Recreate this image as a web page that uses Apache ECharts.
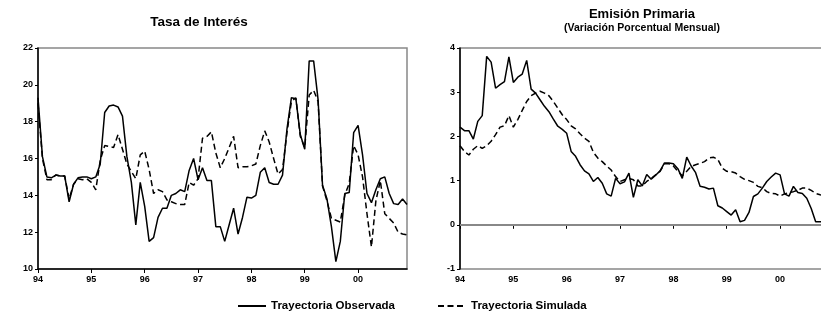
<!DOCTYPE html>
<html>
<head>
<meta charset="utf-8">
<script src="https://cdn.jsdelivr.net/npm/echarts@6/dist/echarts.min.js"></script>
<style>
  html, body { margin: 0; padding: 0; background: #fff; overflow: hidden; }
  #main { width: 834px; height: 316px; }
</style>
</head>
<body>
<div id="main"></div>
<script>
// datos mensuales 1994-2000
var years = ['94', '95', '96', '97', '98', '99', '00'];
var months = ['01', '02', '03', '04', '05', '06', '07', '08', '09', '10', '11', '12'];

// Tasa de Interés
var tasaObservada = [
    19.3, 16.1, 15.0, 14.95, 15.1, 15.05, 15.05, 13.65, 14.6, 14.95,
    15.0, 15.0, 14.9, 15.0, 15.7, 18.5, 18.85, 18.9, 18.8, 18.3,
    16.1, 14.7, 12.4, 14.7, 13.4, 11.5, 11.7, 12.8, 13.3, 13.3,
    14.0, 14.1, 14.3, 14.2, 15.35, 16.0, 14.85, 15.5, 14.8, 14.8,
    12.3, 12.3, 11.5, 12.4, 13.3, 11.9, 12.8, 13.9, 13.85, 14.0,
    15.25, 15.5, 14.7, 14.6, 14.6, 15.1, 17.6, 19.3, 19.25, 17.3,
    16.5, 21.3, 21.3, 19.2, 14.55, 13.8, 12.3, 10.4, 11.5, 14.1,
    14.15, 17.4, 17.8, 16.2, 14.1, 13.6, 14.3, 14.9, 15.0, 14.1,
    13.55, 13.5, 13.8, 13.5
];
var tasaSimulada = [
    19.0, 16.0, 14.85, 14.85, 15.1, 15.05, 15.05, 13.8, 14.6, 14.9,
    14.85, 14.9, 14.7, 14.3, 15.9, 16.7, 16.65, 16.6, 17.3, 16.5,
    15.7, 15.3, 14.9, 16.2, 16.4, 15.4, 14.1, 14.3, 14.2, 13.75,
    13.65, 13.55, 13.5, 13.5, 14.7, 14.55, 14.9, 17.1, 17.2, 17.45,
    16.3, 15.5, 16.0, 16.6, 17.2, 15.5, 15.55, 15.55, 15.6, 15.7,
    16.7, 17.5, 16.9, 16.0, 15.15, 15.4, 17.4, 19.1, 19.3, 17.2,
    16.6, 19.45, 19.7, 19.1, 14.5, 13.7, 12.75, 12.65, 12.55, 14.0,
    14.65, 16.7, 16.2, 15.0, 13.0, 11.2, 13.7, 14.8, 13.0, 12.75,
    12.5, 12.0, 11.9, 11.85
];

// Emisión Primaria (variación porcentual mensual)
var emisionObservada = [
    2.21, 2.13, 2.13, 1.94, 2.34, 2.47, 3.81, 3.68, 3.09, 3.17,
    3.24, 3.80, 3.22, 3.34, 3.41, 3.72, 3.07, 2.98, 2.83, 2.68,
    2.56, 2.39, 2.23, 2.16, 2.07, 1.66, 1.55, 1.36, 1.22, 1.15,
    0.98, 1.07, 0.94, 0.70, 0.65, 1.05, 0.93, 0.97, 1.17, 0.62,
    1.02, 0.88, 1.14, 1.03, 1.12, 1.22, 1.40, 1.40, 1.38, 1.27,
    1.05, 1.53, 1.33, 1.18, 0.87, 0.85, 0.81, 0.83, 0.43, 0.38,
    0.30, 0.22, 0.34, 0.07, 0.10, 0.28, 0.64, 0.70, 0.83, 0.98,
    1.08, 1.17, 1.13, 0.70, 0.65, 0.87, 0.73, 0.71, 0.60, 0.37,
    0.07, 0.07, 0.07, 0.07
];
var emisionSimulada = [
    1.79, 1.66, 1.58, 1.71, 1.79, 1.73, 1.79, 1.89, 2.04, 2.21,
    2.24, 2.47, 2.21, 2.38, 2.59, 2.79, 2.92, 2.98, 3.02, 2.98,
    2.92, 2.79, 2.64, 2.49, 2.38, 2.24, 2.17, 2.06, 1.96, 1.89,
    1.64, 1.51, 1.43, 1.33, 1.24, 1.09, 0.98, 1.02, 1.05, 1.02,
    0.88, 0.88, 0.98, 1.05, 1.13, 1.21, 1.38, 1.38, 1.33, 1.21,
    1.11, 1.21, 1.32, 1.36, 1.39, 1.43, 1.51, 1.53, 1.48, 1.28,
    1.21, 1.20, 1.17, 1.09, 1.03, 1.00, 0.96, 0.87, 0.84, 0.75,
    0.71, 0.70, 0.65, 0.70, 0.73, 0.75, 0.78, 0.83, 0.83, 0.78,
    0.71, 0.68, 0.66, 0.64
];

var categorias = [];
years.forEach(function(y) {
    months.forEach(function(m) { categorias.push(y + '.' + m); });
});

var fuente = 'Liberation Sans, Arial, sans-serif';

function ejeX(gi) {
    return {
        type: 'category', gridIndex: gi, data: categorias, boundaryGap: false,
        axisLine: { lineStyle: { color: '#000', width: 1.5 } },
        axisTick: { interval: 11, length: 4, lineStyle: { color: '#000', width: 1 } },
        axisLabel: {
            interval: 11, margin: 6, color: '#000', fontSize: 9, fontWeight: 'bold', fontFamily: fuente,
            formatter: function(v) { return v.split('.')[0]; }
        },
        splitLine: { show: false }
    };
}

function ejeY(gi, min, max, step) {
    return {
        type: 'value', gridIndex: gi, min: min, max: max, interval: step,
        axisLine: { show: true, lineStyle: { color: '#000', width: 1.5 } },
        axisTick: { show: true, length: 3, lineStyle: { color: '#000' } },
        axisLabel: { margin: 5, color: '#000', fontSize: 9, fontWeight: 'bold', fontFamily: fuente },
        splitLine: { show: false }
    };
}

function linea(name, gi, data, dashed) {
    return {
        name: name, type: 'line', xAxisIndex: gi, yAxisIndex: gi, data: data,
        symbol: 'none', silent: true, animation: false,
        itemStyle: { color: 'rgba(0,0,0,0)', borderWidth: 0 },
        lineStyle: { color: '#000', width: 1.5, type: dashed ? [6, 3.5] : 'solid' }
    };
}

function leyenda(name, left) {
    return {
        left: left, top: 295, itemWidth: 28, itemHeight: 10,
        textStyle: { color: '#000', fontSize: 11.5, fontWeight: 'bold', fontFamily: fuente },
        data: [name]
    };
}

var chart = echarts.init(document.getElementById('main'));

var serieEmision = linea('Trayectoria Observada', 1, emisionObservada, false);
serieEmision.markLine = {
    silent: true, symbol: 'none', animation: false,
    label: { show: false },
    lineStyle: { color: '#888', width: 2, type: 'solid' },
    data: [{ yAxis: 0 }]
};

chart.setOption({
    animation: false,
    grid: [
        { left: 38, top: 48, width: 369, height: 221, show: true, borderColor: '#888', borderWidth: 1.5 },
        { left: 460, top: 48, width: 369, height: 221, show: true, borderColor: '#888', borderWidth: 1.5 }
    ],
    xAxis: [ejeX(0), ejeX(1)],
    yAxis: [ejeY(0, 10, 22, 2), ejeY(1, -1, 4, 1)],
    legend: [leyenda('Trayectoria Observada', 232), leyenda('Trayectoria Simulada', 432)],
    graphic: [
        { type: 'text', x: 199, y: 22, style: { text: 'Tasa de Interés', font: 'bold 13.5px ' + fuente, fill: '#000', align: 'center', verticalAlign: 'middle' } },
        { type: 'text', x: 642, y: 14, style: { text: 'Emisión Primaria', font: 'bold 13px ' + fuente, fill: '#000', align: 'center', verticalAlign: 'middle' } },
        { type: 'text', x: 642, y: 28, style: { text: '(Variación Porcentual Mensual)', font: 'bold 10.5px ' + fuente, fill: '#000', align: 'center', verticalAlign: 'middle' } }
    ],
    series: [
        linea('Trayectoria Observada', 0, tasaObservada, false),
        linea('Trayectoria Simulada', 0, tasaSimulada, true),
        serieEmision,
        linea('Trayectoria Simulada', 1, emisionSimulada, true)
    ]
});
</script>
</body>
</html>
